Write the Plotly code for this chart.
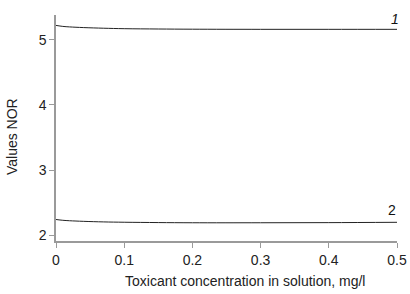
import plotly.graph_objects as go

conc = [0, 0.01, 0.02, 0.04, 0.07, 0.1, 0.15, 0.2, 0.3, 0.4, 0.5]
nor1 = [5.22, 5.205, 5.197, 5.187, 5.177, 5.17, 5.165, 5.162, 5.16, 5.16, 5.16]
nor2 = [2.24, 2.228, 2.221, 2.212, 2.203, 2.198, 2.193, 2.19, 2.19, 2.192, 2.197]
curve_labels = ["1", "2"]
x_title = "Toxicant concentration in solution, mg/l"
y_title = "Values NOR"

fig = go.Figure()
for y in (nor1, nor2):
    fig.add_trace(go.Scatter(x=conc, y=y, mode="lines",
                             line=dict(color="#222222", width=1, shape="spline"),
                             showlegend=False, hoverinfo="skip"))

fig.add_annotation(x=0.497, y=5.32, text="<i>" + curve_labels[0] + "</i>", showarrow=False,
                   xanchor="center", yanchor="middle", font=dict(size=14, color="#111"))
fig.add_annotation(x=0.493, y=2.38, text=curve_labels[1], showarrow=False,
                   xanchor="center", yanchor="middle", font=dict(size=14, color="#111"))

fig.add_annotation(xref="paper", yref="paper", x=0.553, y=-0.178, text=x_title,
                   showarrow=False, xanchor="center", yanchor="middle",
                   font=dict(size=14, color="#222"))
fig.add_annotation(xref="paper", yref="paper", x=-0.129, y=0.46, text=y_title,
                   showarrow=False, xanchor="center", yanchor="middle", textangle=-90,
                   font=dict(size=14, color="#222"))

axis_common = dict(showline=True, linecolor="#9a9a9a", linewidth=1.5, ticks="outside",
                   tickcolor="#9a9a9a", ticklen=5, showgrid=False, zeroline=False,
                   tickfont=dict(size=14, color="#222"), mirror=False, automargin=False)

fig.update_xaxes(range=[0, 0.5], tickvals=[0, 0.1, 0.2, 0.3, 0.4, 0.5],
                 ticktext=["0", "0.1", "0.2", "0.3", "0.4", "0.5"], **axis_common)
fig.update_yaxes(range=[1.91, 5.38], tickvals=[2, 3, 4, 5], **axis_common)

fig.update_layout(width=410, height=294, margin=dict(l=56, r=13, t=15, b=53),
                  plot_bgcolor="white", paper_bgcolor="white",
                  font=dict(family="Liberation Sans, Arial, sans-serif"))
fig.write_html("out.html")
